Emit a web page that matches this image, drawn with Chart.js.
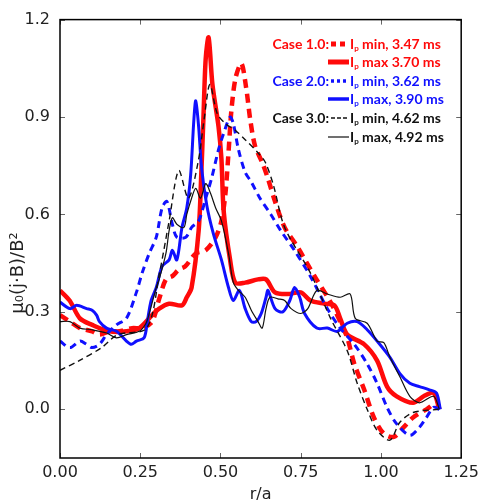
<!DOCTYPE html>
<html>
<head>
<meta charset="utf-8">
<script src="https://cdn.jsdelivr.net/npm/chart.js@4.4.1/dist/chart.umd.min.js"></script>
<style>
  html, body { margin: 0; padding: 0; background: #fff; }
</style>
</head>
<body>
<canvas id="chartJB" width="484" height="504"></canvas>
<script>
// axis ticks
const xTicks = [0, 0.25, 0.5, 0.75, 1.0, 1.25];
const xTickLabels = ['0.00', '0.25', '0.50', '0.75', '1.00', '1.25'];
const yTicks = [0, 0.3, 0.6, 0.9, 1.2];
const yTickLabels = ['0.0', '0.3', '0.6', '0.9', '1.2'];

// [r/a, mu0 (j.B)/B^2]
const case1Min = [[0,0.29],[0.031,0.27],[0.062,0.25],[0.10,0.24],[0.123,0.23],[0.154,0.24],[0.185,0.24],[0.225,0.25],[0.256,0.25],[0.287,0.27],[0.309,0.34],[0.33,0.40],[0.35,0.41],[0.37,0.43],[0.39,0.44],[0.423,0.48],[0.454,0.49],[0.485,0.53],[0.503,0.58],[0.515,0.66],[0.525,0.79],[0.534,0.92],[0.547,1.02],[0.565,1.065],[0.58,0.99],[0.593,0.89],[0.608,0.81],[0.63,0.76],[0.648,0.71],[0.67,0.64],[0.70,0.56],[0.74,0.50],[0.793,0.41],[0.843,0.33],[0.873,0.27],[0.895,0.22],[0.917,0.14],[0.948,0.06],[0.978,-0.025],[1.009,-0.075],[1.04,-0.085],[1.071,-0.055],[1.10,-0.025],[1.142,0.0],[1.173,0.02],[1.182,0.0]];
const case1Max = [[0,0.366],[0.03,0.335],[0.062,0.28],[0.10,0.26],[0.154,0.24],[0.207,0.24],[0.247,0.25],[0.287,0.29],[0.309,0.31],[0.34,0.325],[0.38,0.32],[0.395,0.345],[0.41,0.375],[0.432,0.55],[0.44,0.72],[0.447,0.9],[0.454,1.08],[0.463,1.145],[0.475,1.0],[0.494,0.87],[0.503,0.77],[0.51,0.61],[0.53,0.46],[0.546,0.39],[0.577,0.39],[0.617,0.40],[0.642,0.40],[0.67,0.36],[0.71,0.355],[0.75,0.36],[0.78,0.335],[0.824,0.325],[0.855,0.32],[0.873,0.28],[0.895,0.23],[0.948,0.20],[0.988,0.15],[1.019,0.07],[1.049,0.04],[1.10,0.02],[1.133,0.04],[1.164,0.05],[1.182,0.0]];
const case2Min = [[0,0.21],[0.031,0.19],[0.062,0.21],[0.083,0.20],[0.10,0.19],[0.123,0.20],[0.145,0.23],[0.176,0.26],[0.207,0.28],[0.238,0.36],[0.256,0.42],[0.278,0.48],[0.30,0.53],[0.318,0.62],[0.333,0.64],[0.35,0.57],[0.364,0.53],[0.392,0.53],[0.41,0.56],[0.432,0.58],[0.454,0.65],[0.472,0.71],[0.494,0.80],[0.51,0.85],[0.53,0.90],[0.54,0.88],[0.556,0.80],[0.577,0.73],[0.596,0.70],[0.623,0.65],[0.657,0.60],[0.688,0.55],[0.73,0.49],[0.78,0.41],[0.833,0.31],[0.873,0.25],[0.917,0.20],[0.957,0.14],[0.988,0.08],[1.019,0.006],[1.049,-0.045],[1.09,-0.08],[1.12,-0.055],[1.142,-0.025],[1.164,0.006],[1.182,0.0]];
const case2Max = [[0,0.33],[0.031,0.31],[0.052,0.32],[0.083,0.31],[0.10,0.305],[0.114,0.29],[0.123,0.27],[0.145,0.25],[0.176,0.24],[0.207,0.21],[0.222,0.20],[0.238,0.21],[0.262,0.22],[0.272,0.27],[0.284,0.335],[0.30,0.375],[0.318,0.44],[0.34,0.46],[0.35,0.49],[0.364,0.46],[0.38,0.56],[0.395,0.62],[0.407,0.72],[0.417,0.89],[0.423,0.95],[0.432,0.87],[0.441,0.745],[0.457,0.63],[0.478,0.54],[0.503,0.46],[0.525,0.375],[0.54,0.335],[0.559,0.366],[0.577,0.31],[0.596,0.27],[0.611,0.27],[0.627,0.295],[0.642,0.345],[0.648,0.366],[0.67,0.31],[0.694,0.30],[0.716,0.335],[0.731,0.375],[0.747,0.345],[0.762,0.295],[0.80,0.25],[0.833,0.25],[0.864,0.24],[0.895,0.265],[0.926,0.27],[0.957,0.245],[0.988,0.21],[1.028,0.16],[1.059,0.11],[1.09,0.08],[1.12,0.07],[1.151,0.06],[1.173,0.05],[1.185,0.0]];
const case3Min = [[0,0.12],[0.06,0.15],[0.13,0.19],[0.18,0.23],[0.27,0.25],[0.31,0.42],[0.34,0.58],[0.37,0.735],[0.40,0.65],[0.43,0.76],[0.45,0.90],[0.467,1.0],[0.49,0.91],[0.515,0.88],[0.545,0.86],[0.577,0.83],[0.617,0.79],[0.64,0.76],[0.665,0.69],[0.70,0.56],[0.78,0.42],[0.843,0.28],[0.895,0.18],[0.926,0.08],[0.957,0.0],[0.988,-0.065],[1.028,-0.095],[1.059,-0.04],[1.10,-0.01],[1.18,0.0]];
const case3Max = [[0,0.27],[0.031,0.27],[0.062,0.25],[0.10,0.245],[0.145,0.235],[0.176,0.22],[0.207,0.23],[0.247,0.24],[0.268,0.265],[0.278,0.295],[0.30,0.375],[0.309,0.40],[0.33,0.48],[0.34,0.55],[0.35,0.59],[0.364,0.57],[0.386,0.56],[0.395,0.60],[0.41,0.65],[0.423,0.68],[0.438,0.65],[0.454,0.695],[0.469,0.665],[0.485,0.62],[0.503,0.58],[0.525,0.48],[0.54,0.39],[0.556,0.366],[0.577,0.345],[0.596,0.305],[0.617,0.27],[0.63,0.25],[0.642,0.31],[0.654,0.345],[0.679,0.34],[0.70,0.335],[0.72,0.31],[0.75,0.295],[0.772,0.31],[0.80,0.366],[0.833,0.355],[0.873,0.345],[0.904,0.355],[0.92,0.28],[0.957,0.265],[0.988,0.21],[1.009,0.205],[1.028,0.16],[1.059,0.10],[1.09,0.04],[1.12,0.02],[1.164,0.04],[1.182,0.0]];

// legend text
const legendCases = ['Case 1.0:', '', 'Case 2.0:', '', 'Case 3.0:', ''];
const legendTexts = [' min, 3.47 ms', ' max 3.70 ms', ' min, 3.62 ms', ' max, 3.90 ms', ' min, 4.62 ms', ' max, 4.92 ms'];
const yTitle = 'μ₀(j·B)/B²';

const RED = '#ff0a0a', BLUE = '#1010ff', BLACK = '#111';
const toPts = arr => arr.map(p => ({ x: p[0], y: p[1] }));

const series = [
  { data: case3Max, color: BLACK, width: 1.2, dash: [] },
  { data: case3Min, color: BLACK, width: 1.4, dash: [6, 4] },
  { data: case2Min, color: BLUE, width: 3, dash: [7, 5] },
  { data: case2Max, color: BLUE, width: 3, dash: [] },
  { data: case1Min, color: RED, width: 4.5, dash: [9, 6] },
  { data: case1Max, color: RED, width: 4.5, dash: [] }
];

// inward ticks + full frame (matplotlib look), rotated y title
const framePlugin = {
  id: 'frame',
  afterDatasetsDraw(chart) {
    const { ctx, chartArea: a, scales } = chart;
    const seg = (x1, y1, x2, y2) => { ctx.beginPath(); ctx.moveTo(x1, y1); ctx.lineTo(x2, y2); ctx.stroke(); };
    ctx.save();
    ctx.strokeStyle = '#666'; ctx.lineWidth = 1;
    xTicks.forEach(v => {
      const px = Math.round(scales.x.getPixelForValue(v)) + 0.5;
      seg(px, a.bottom, px, a.bottom - 5); seg(px, a.top, px, a.top + 5);
    });
    yTicks.forEach(v => {
      const py = Math.round(scales.y.getPixelForValue(v)) + 0.5;
      seg(a.left, py, a.left + 5, py); seg(a.right, py, a.right - 5, py);
    });
    ctx.strokeStyle = '#000'; ctx.lineWidth = 1.5;
    ctx.strokeRect(a.left, a.top, a.right - a.left, a.bottom - a.top);

    ctx.translate(18, 273);
    ctx.rotate(-Math.PI / 2);
    ctx.fillStyle = '#222';
    ctx.font = '18px "DejaVu Sans"';
    ctx.textAlign = 'center';
    ctx.textBaseline = 'middle';
    ctx.fillText(yTitle, 0, 0);
    ctx.restore();
  }
};

// legend written as text block in upper right
const legendPlugin = {
  id: 'caseLegend',
  afterDraw(chart) {
    const ctx = chart.ctx;
    const rowsY = [44, 62, 81, 99, 118, 137];
    const colors = [RED, RED, BLUE, BLUE, BLACK, BLACK];
    ctx.save();
    ctx.textBaseline = 'middle';
    rowsY.forEach((y, i) => {
      ctx.fillStyle = colors[i];
      ctx.font = 'bold 14px Lato';
      if (legendCases[i]) { ctx.textAlign = 'right'; ctx.fillText(legendCases[i], 329, y); }
      // line sample
      ctx.strokeStyle = colors[i];
      ctx.lineCap = 'butt';
      if (i === 0) { ctx.lineWidth = 5; ctx.setLineDash([5, 4]); }
      else if (i === 1) { ctx.lineWidth = 5; ctx.setLineDash([]); }
      else if (i === 2) { ctx.lineWidth = 3.5; ctx.setLineDash([3, 3]); }
      else if (i === 3) { ctx.lineWidth = 3.5; ctx.setLineDash([]); }
      else if (i === 4) { ctx.lineWidth = 1.3; ctx.setLineDash([4, 2]); }
      else { ctx.lineWidth = 1.2; ctx.setLineDash([]); }
      ctx.beginPath(); ctx.moveTo(i === 1 || i === 3 || i === 5 ? 328 : 331, y); ctx.lineTo(349, y); ctx.stroke();
      ctx.setLineDash([]);
      // I_p + text
      ctx.textAlign = 'left';
      ctx.font = 'bold 14px Lato';
      ctx.fillText('I', 350, y);
      const wI = ctx.measureText('I').width;
      ctx.font = 'bold 8px Lato';
      ctx.fillText('p', 350 + wI, y + 4);
      const wp = ctx.measureText('p').width;
      ctx.font = 'bold 14px Lato';
      ctx.fillText(legendTexts[i], 350 + wI + wp, y);
    });
    ctx.restore();
  }
};

new Chart(document.getElementById('chartJB').getContext('2d'), {
  type: 'line',
  data: {
    datasets: series.map(s => ({
      data: toPts(s.data),
      borderColor: s.color,
      borderWidth: s.width,
      borderDash: s.dash,
      pointRadius: 0,
      tension: 0.3,
      fill: false
    }))
  },
  options: {
    responsive: false,
    animation: false,
    layout: { padding: { top: 19, right: 20, left: 0, bottom: 0 } },
    plugins: { legend: { display: false }, tooltip: { enabled: false } },
    scales: {
      x: {
        type: 'linear', min: 0, max: 1.25,
        afterBuildTicks: sc => { sc.ticks = xTicks.map(v => ({ value: v })); },
        afterFit: sc => { sc.height = 46; },
        grid: { display: false, drawTicks: false },
        border: { display: false },
        ticks: {
          padding: 5, color: '#222', font: { family: 'DejaVu Sans', size: 16 },
          maxRotation: 0, autoSkip: false,
          callback: v => xTickLabels[xTicks.indexOf(v)]
        },
        title: { display: true, text: 'r/a', color: '#222', font: { family: 'DejaVu Sans', size: 16 }, padding: { top: 2, bottom: 0 } }
      },
      y: {
        type: 'linear', min: -0.15, max: 1.2,
        afterBuildTicks: sc => { sc.ticks = yTicks.map(v => ({ value: v })); },
        afterFit: sc => { sc.width = 60; },
        grid: { display: false, drawTicks: false },
        border: { display: false },
        ticks: {
          padding: 10, color: '#222', font: { family: 'DejaVu Sans', size: 16 },
          autoSkip: false,
          callback: v => yTickLabels[yTicks.indexOf(v)]
        }
      }
    }
  },
  plugins: [framePlugin, legendPlugin]
});
</script>
</body>
</html>
